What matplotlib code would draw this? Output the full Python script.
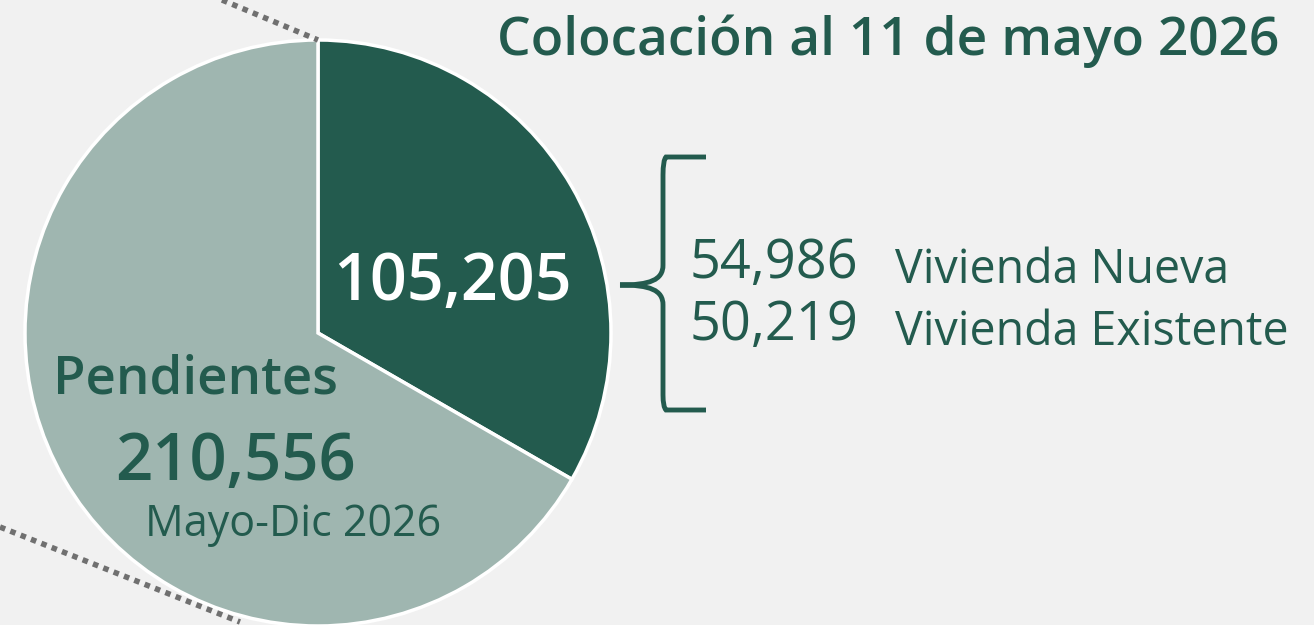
import matplotlib
matplotlib.use("Agg")
import matplotlib.pyplot as plt
from matplotlib.path import Path
from matplotlib.patches import PathPatch

# data
labels = ['Colocados', 'Pendientes']
values = [105205, 210556]
sub_values = [54986, 50219]
sub_labels = ['Vivienda Nueva', 'Vivienda Existente']
title = 'Colocación al 11 de mayo 2026'
periodo = 'Mayo-Dic 2026'

verde = '#235b4e'
verde_claro = '#9fb6b0'
fondo = '#f1f1f1'

plt.rcParams['font.family'] = ['Open Sans', 'DejaVu Sans']

W, H = 1314, 625
fig = plt.figure(figsize=(W / 100, H / 100), dpi=100, facecolor=fondo)
ax = fig.add_axes([0, 0, 1, 1])
ax.set_facecolor(fondo)


def Y(y):
    # pixel row from top -> data y
    return H - y


# dotted guide lines
ax.plot([222, 318], [Y(0), Y(40)], ls=(0, (1, 1)), color='#707070', lw=4, solid_capstyle='butt')
ax.plot([0, 240], [Y(527), Y(622)], ls=(0, (1, 1)), color='#707070', lw=4, solid_capstyle='butt')

ax.pie(values, colors=[verde, verde_claro], startangle=90, counterclock=False,
       center=(318, Y(333)), radius=293,
       wedgeprops=dict(edgecolor='white', linewidth=2.5))

ax.set_xlim(0, W)
ax.set_ylim(0, H)
ax.set_aspect('equal')
ax.axis('off')

ax.text(497, Y(55), title, fontsize=38.3, fontweight='semibold', color=verde, va='baseline', ha='left')
ax.text(333, Y(300), f'{values[0]:,}', fontsize=46.5, fontweight='semibold', color='white', va='baseline', ha='left')
ax.text(53, Y(393), labels[1], fontsize=38, fontweight='semibold', color=verde, va='baseline', ha='left')
ax.text(115, Y(480), f'{values[1]:,}', fontsize=47, fontweight='semibold', color=verde, va='baseline', ha='left')
ax.text(145, Y(536), periodo, fontsize=31, color=verde, va='baseline', ha='left')

rows = [(278, 283), (340, 345)]
for (yn, yl), v, lab in zip(rows, sub_values, sub_labels):
    ax.text(690, Y(yn), f'{v:,}', fontsize=39, color=verde, va='baseline', ha='left')
    ax.text(895, Y(yl), lab, fontsize=33.5, color=verde, va='baseline', ha='left')

# curly bracket
verts = [(706, Y(157)), (666, Y(157)), (663, Y(160)), (663, Y(175)),
         (663, Y(265)),
         (663, Y(280)), (650, Y(285)), (620, Y(285)),
         (650, Y(285)), (663, Y(290)), (663, Y(305)),
         (663, Y(395)),
         (663, Y(407)), (666, Y(410)), (706, Y(410))]
codes = [Path.MOVETO, Path.LINETO, Path.CURVE3, Path.CURVE3,
         Path.LINETO,
         Path.CURVE4, Path.CURVE4, Path.CURVE4,
         Path.CURVE4, Path.CURVE4, Path.CURVE4,
         Path.LINETO,
         Path.CURVE3, Path.CURVE3, Path.LINETO]
ax.add_patch(PathPatch(Path(verts, codes), fill=False, edgecolor=verde, lw=3.5))

fig.savefig('out.png', dpi=100, facecolor=fondo)
